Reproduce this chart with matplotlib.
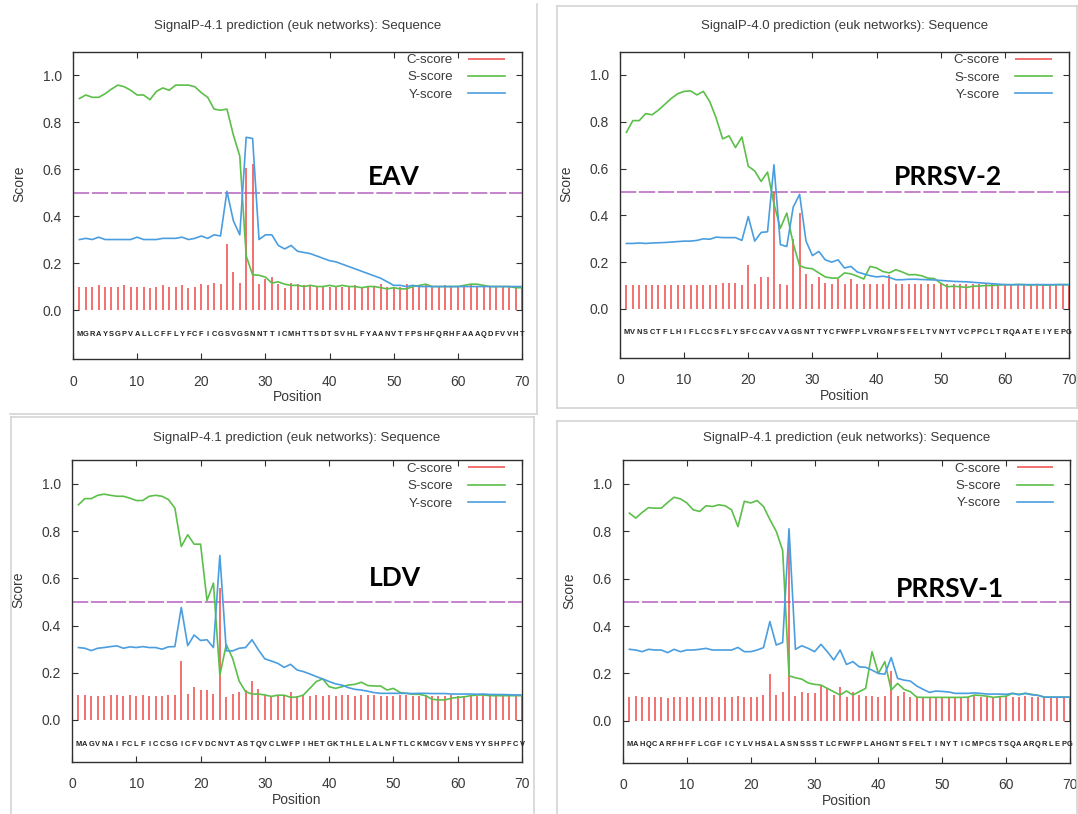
import matplotlib
matplotlib.use("Agg")
import matplotlib.pyplot as plt
from matplotlib.lines import Line2D
import numpy as np

plt.rcParams['font.family'] = ['Liberation Sans', 'DejaVu Sans']

# ---------------- data ----------------
titles = ["SignalP-4.1 prediction (euk networks): Sequence",
          "SignalP-4.0 prediction (euk networks): Sequence",
          "SignalP-4.1 prediction (euk networks): Sequence",
          "SignalP-4.1 prediction (euk networks): Sequence"]
virus_labels = ["EAV", "PRRSV-2", "LDV", "PRRSV-1"]
sequences = [
    "MGRAYSGPVALLCFFLYFCFICGSVGSNNTTICMHTTSDTSVHLFYAANVTFPSHFQRHFAAAQDFVVHT",
    "MVNSCTFLHIFLCCSFLYSFCCAVVAGSNTTYCFWFPLVRGNFSFELTVNYTVCPPCLTRQAATEIYEPG",
    "MAGVNAIFCLFICCSGICFVDCNVTASTQVCLWFPIHETGKTHLELALNFTLCKMCGVVENSYYSHPFCV",
    "MAHQCARFHFFLCGFICYLVHSALASNSSSTLCFWFPLAHGNTSFELTINYTICMPCSTSQAARQRLEPG",
]

eav_c = [0.10, 0.10, 0.10, 0.105, 0.10, 0.10, 0.10, 0.105, 0.10, 0.10,
         0.10, 0.095, 0.10, 0.105, 0.10, 0.10, 0.105, 0.095, 0.10, 0.11,
         0.105, 0.115, 0.11, 0.28, 0.16, 0.115, 0.605, 0.62, 0.11, 0.13,
         0.14, 0.11, 0.095, 0.115, 0.11, 0.105, 0.105, 0.10, 0.10, 0.10,
         0.10, 0.10, 0.10, 0.105, 0.095, 0.10, 0.10, 0.11, 0.10, 0.095,
         0.10, 0.11, 0.10, 0.10, 0.105, 0.10, 0.10, 0.105, 0.10, 0.10,
         0.10, 0.105, 0.10, 0.105, 0.10, 0.10, 0.10, 0.10, 0.10, 0.095]
eav_s = [0.90, 0.915, 0.905, 0.905, 0.92, 0.94, 0.957, 0.95, 0.935, 0.915,
         0.915, 0.895, 0.93, 0.945, 0.935, 0.957, 0.957, 0.957, 0.95, 0.925,
         0.905, 0.855, 0.85, 0.855, 0.745, 0.655, 0.23, 0.15, 0.148, 0.14,
         0.115, 0.12, 0.11, 0.105, 0.105, 0.10, 0.105, 0.10, 0.10, 0.105,
         0.10, 0.105, 0.10, 0.10, 0.095, 0.10, 0.10, 0.095, 0.09, 0.095,
         0.09, 0.09, 0.10, 0.105, 0.11, 0.10, 0.10, 0.10, 0.10, 0.10,
         0.105, 0.11, 0.11, 0.105, 0.10, 0.10, 0.10, 0.10, 0.095, 0.095]
eav_y = [0.30, 0.305, 0.30, 0.31, 0.30, 0.30, 0.30, 0.30, 0.30, 0.31,
         0.30, 0.30, 0.30, 0.305, 0.305, 0.305, 0.31, 0.30, 0.305, 0.315,
         0.305, 0.32, 0.315, 0.505, 0.38, 0.32, 0.735, 0.73, 0.30, 0.32,
         0.32, 0.275, 0.26, 0.275, 0.25, 0.245, 0.24, 0.23, 0.22, 0.21,
         0.205, 0.195, 0.185, 0.175, 0.165, 0.155, 0.145, 0.135, 0.12, 0.105,
         0.105, 0.10, 0.105, 0.10, 0.10, 0.10, 0.10, 0.10, 0.10, 0.10,
         0.10, 0.10, 0.10, 0.10, 0.10, 0.10, 0.10, 0.10, 0.10, 0.10]

prrsv2_c = [0.104, 0.104, 0.104, 0.104, 0.104, 0.104, 0.104, 0.104, 0.104, 0.104,
            0.104, 0.104, 0.104, 0.104, 0.104, 0.11, 0.11, 0.11, 0.104, 0.186,
            0.105, 0.135, 0.137, 0.50, 0.108, 0.104, 0.30, 0.41, 0.15, 0.105,
            0.135, 0.11, 0.105, 0.13, 0.105, 0.13, 0.105, 0.105, 0.105, 0.105,
            0.105, 0.145, 0.105, 0.105, 0.105, 0.105, 0.105, 0.105, 0.105, 0.105,
            0.105, 0.105, 0.105, 0.105, 0.105, 0.105, 0.105, 0.105, 0.105, 0.105,
            0.105, 0.105, 0.105, 0.105, 0.105, 0.105, 0.105, 0.105, 0.105, 0.105]
prrsv2_s = [0.755, 0.805, 0.805, 0.835, 0.83, 0.85, 0.875, 0.90, 0.92, 0.93,
            0.932, 0.915, 0.93, 0.886, 0.815, 0.727, 0.74, 0.69, 0.735, 0.61,
            0.59, 0.545, 0.585, 0.45, 0.345, 0.41, 0.28, 0.185, 0.175, 0.172,
            0.154, 0.137, 0.132, 0.132, 0.154, 0.15, 0.14, 0.128, 0.182, 0.175,
            0.16, 0.154, 0.168, 0.158, 0.146, 0.147, 0.142, 0.132, 0.13, 0.11,
            0.095, 0.097, 0.095, 0.092, 0.097, 0.098, 0.10, 0.10, 0.102, 0.104,
            0.103, 0.105, 0.104, 0.102, 0.104, 0.102, 0.102, 0.104, 0.104, 0.104]
prrsv2_y = [0.28, 0.28, 0.282, 0.28, 0.282, 0.283, 0.284, 0.286, 0.288, 0.29,
            0.29, 0.293, 0.30, 0.298, 0.307, 0.305, 0.305, 0.305, 0.293, 0.395,
            0.29, 0.327, 0.33, 0.616, 0.275, 0.267, 0.435, 0.49, 0.29, 0.228,
            0.246, 0.21, 0.20, 0.21, 0.175, 0.182, 0.158, 0.15, 0.142, 0.137,
            0.14, 0.135, 0.125, 0.125, 0.127, 0.127, 0.126, 0.125, 0.124, 0.122,
            0.12, 0.118, 0.117, 0.116, 0.114, 0.112, 0.11, 0.108, 0.106, 0.104,
            0.104, 0.104, 0.104, 0.104, 0.104, 0.104, 0.104, 0.104, 0.104, 0.104]

ldv_c = [0.105, 0.105, 0.10, 0.10, 0.10, 0.105, 0.105, 0.10, 0.105, 0.10,
         0.105, 0.10, 0.10, 0.10, 0.105, 0.105, 0.248, 0.11, 0.141, 0.127,
         0.127, 0.11, 0.56, 0.099, 0.11, 0.12, 0.127, 0.167, 0.13, 0.105,
         0.10, 0.105, 0.10, 0.12, 0.10, 0.105, 0.10, 0.105, 0.10, 0.105,
         0.10, 0.105, 0.105, 0.10, 0.105, 0.105, 0.105, 0.10, 0.10, 0.10,
         0.105, 0.105, 0.10, 0.10, 0.105, 0.10, 0.10, 0.10, 0.105, 0.10,
         0.10, 0.105, 0.10, 0.105, 0.10, 0.105, 0.10, 0.10, 0.10, 0.10]
ldv_s = [0.912, 0.938, 0.938, 0.952, 0.957, 0.952, 0.948, 0.948, 0.94, 0.93,
         0.93, 0.948, 0.952, 0.948, 0.934, 0.898, 0.735, 0.785, 0.745, 0.745,
         0.506, 0.58, 0.19, 0.32, 0.26, 0.165, 0.12, 0.11, 0.11, 0.106,
         0.10, 0.105, 0.105, 0.096, 0.097, 0.106, 0.134, 0.163, 0.174, 0.141,
         0.134, 0.141, 0.148, 0.151, 0.16, 0.146, 0.144, 0.144, 0.127, 0.134,
         0.117, 0.113, 0.109, 0.109, 0.103, 0.088, 0.085, 0.085, 0.092, 0.096,
         0.098, 0.103, 0.106, 0.106, 0.103, 0.103, 0.103, 0.103, 0.103, 0.103]
ldv_y = [0.307, 0.304, 0.294, 0.304, 0.307, 0.311, 0.314, 0.304, 0.31, 0.307,
         0.311, 0.307, 0.307, 0.30, 0.31, 0.311, 0.477, 0.315, 0.36, 0.337,
         0.34, 0.307, 0.697, 0.293, 0.293, 0.304, 0.307, 0.34, 0.297, 0.259,
         0.25, 0.24, 0.223, 0.236, 0.212, 0.205, 0.195, 0.184, 0.174, 0.163,
         0.153, 0.148, 0.137, 0.13, 0.127, 0.122, 0.116, 0.113, 0.113, 0.113,
         0.113, 0.113, 0.112, 0.113, 0.113, 0.112, 0.112, 0.112, 0.11, 0.11,
         0.11, 0.11, 0.109, 0.11, 0.108, 0.108, 0.108, 0.107, 0.106, 0.106]

prrsv1_c = [0.10, 0.105, 0.10, 0.10, 0.10, 0.10, 0.095, 0.10, 0.10, 0.10,
            0.10, 0.10, 0.10, 0.10, 0.10, 0.10, 0.10, 0.105, 0.10, 0.10,
            0.10, 0.11, 0.197, 0.11, 0.12, 0.76, 0.106, 0.123, 0.116, 0.116,
            0.148, 0.138, 0.11, 0.144, 0.10, 0.12, 0.11, 0.105, 0.105, 0.10,
            0.105, 0.21, 0.105, 0.123, 0.10, 0.10, 0.10, 0.10, 0.10, 0.10,
            0.10, 0.10, 0.10, 0.10, 0.105, 0.10, 0.10, 0.10, 0.10, 0.105,
            0.10, 0.10, 0.105, 0.10, 0.10, 0.10, 0.10, 0.10, 0.10, 0.10]
prrsv1_s = [0.877, 0.856, 0.88, 0.90, 0.898, 0.898, 0.922, 0.944, 0.937, 0.92,
            0.891, 0.884, 0.908, 0.905, 0.912, 0.908, 0.891, 0.82, 0.927, 0.92,
            0.93, 0.905, 0.85, 0.80, 0.72, 0.19, 0.182, 0.176, 0.16, 0.154,
            0.151, 0.137, 0.123, 0.109, 0.126, 0.109, 0.123, 0.137, 0.292, 0.20,
            0.25, 0.13, 0.158, 0.133, 0.123, 0.10, 0.099, 0.099, 0.099, 0.099,
            0.099, 0.099, 0.099, 0.10, 0.109, 0.107, 0.104, 0.099, 0.102, 0.104,
            0.116, 0.112, 0.116, 0.112, 0.107, 0.10, 0.10, 0.10, 0.10, 0.10]
prrsv1_y = [0.302, 0.299, 0.292, 0.302, 0.299, 0.299, 0.288, 0.302, 0.292, 0.299,
            0.299, 0.302, 0.306, 0.299, 0.299, 0.299, 0.299, 0.31, 0.292, 0.292,
            0.299, 0.309, 0.419, 0.32, 0.331, 0.811, 0.302, 0.317, 0.306, 0.292,
            0.323, 0.292, 0.257, 0.299, 0.238, 0.25, 0.228, 0.226, 0.214, 0.20,
            0.197, 0.267, 0.179, 0.172, 0.168, 0.147, 0.133, 0.12, 0.126, 0.124,
            0.122, 0.116, 0.116, 0.116, 0.118, 0.116, 0.113, 0.113, 0.113, 0.112,
            0.116, 0.11, 0.116, 0.11, 0.108, 0.10, 0.10, 0.10, 0.10, 0.10]

c_scores = [eav_c, prrsv2_c, ldv_c, prrsv1_c]
s_scores = [eav_s, prrsv2_s, ldv_s, prrsv1_s]
y_scores = [eav_y, prrsv2_y, ldv_y, prrsv1_y]
threshold = 0.5
x_ticks = [0, 10, 20, 30, 40, 50, 60, 70]
y_ticks = [0.0, 0.2, 0.4, 0.6, 0.8, 1.0]

# ---------------- layout ----------------
W, H = 1078, 814
fig = plt.figure(figsize=(W / 100, H / 100), dpi=100)
fig.patch.set_facecolor('white')

# axes rectangles in pixels: left, top, right, bottom ; and y-limits
rects_px = [(73, 51.5, 522, 359.4),
            (620, 51.6, 1069, 358.1),
            (72, 460.4, 522, 762),
            (623, 460.3, 1070, 763)]
ylims = [(-0.21, 1.1), (-0.21, 1.1), (-0.178, 1.1), (-0.178, 1.1)]
title_pads = [16, 16, 14, 14]
label_pos = [(50.0, 0.566), (51.2, 0.566), (50.2, 0.60), (51.2, 0.555)]

RED = '#f04848'
GREEN = '#5cbf4a'
BLUE = '#4a9ee0'
PURPLE = '#c07ac8'
TXT = '#3a3a3a'

# panel borders (figure pixel coords)
def border(x0, y0, x1, y1, sides=('l', 'r', 't', 'b')):
    segs = {'l': ((x0, x0), (y0, y1)), 'r': ((x1, x1), (y0, y1)),
            't': ((x0, x1), (y0, y0)), 'b': ((x0, x1), (y1, y1))}
    for s in sides:
        xs, ys = segs[s]
        fig.add_artist(Line2D([x / W for x in xs], [1 - y / H for y in ys],
                              color='#d4d4d4', lw=1.2))

border(10, 4, 537, 414, sides=('r', 'b'))
border(557, 6, 1077, 408)
border(11, 417, 534, 813, sides=('l', 'r', 't'))
border(557, 421, 1077, 813, sides=('l', 'r', 't'))

for i in range(4):
    l, t, r, b = rects_px[i]
    ax = fig.add_axes([l / W, 1 - b / H, (r - l) / W, (b - t) / H])
    pos = np.arange(1, len(c_scores[i]) + 1)
    ax.vlines(pos, 0, c_scores[i], color=RED, lw=1.1, label='C-score', zorder=2)
    ax.plot(pos, s_scores[i], color=GREEN, lw=1.2, label='S-score', zorder=3)
    ax.plot(pos, y_scores[i], color=BLUE, lw=1.2, label='Y-score', zorder=4)
    ax.axhline(threshold, color=PURPLE, lw=1.3, dashes=(9, 1.5), zorder=1)
    for k, ch in enumerate(sequences[i]):
        ax.text(k + 1, -0.102, ch, ha='center', va='center', fontsize=5.4,
                fontweight='bold', color='#222222')
    ax.text(label_pos[i][0], label_pos[i][1], virus_labels[i], ha='center', va='center',
            fontsize=19, fontweight='bold', family=['Lato', 'DejaVu Sans'], color='black')
    ax.set_xlim(0, 70)
    ax.set_ylim(*ylims[i])
    ax.set_xticks(x_ticks)
    ax.set_yticks(y_ticks)
    ax.set_yticklabels([f"{v:.1f}" for v in y_ticks])
    ax.tick_params(direction='in', top=True, right=True, length=4, width=0.8,
                   colors='#303030', labelcolor=TXT, labelsize=10)
    ax.tick_params(axis='x', pad=11)
    ax.tick_params(axis='y', pad=8)
    for sp in ax.spines.values():
        sp.set_color('#303030')
        sp.set_linewidth(1.0)
    ax.set_title(titles[i], fontsize=9.5, color=TXT, pad=title_pads[i])
    ax.set_xlabel('Position', fontsize=10, color=TXT)
    ax.set_ylabel('Score', fontsize=10, color=TXT)
    hpx = b - t
    wpx = r - l
    ax.xaxis.set_label_coords(0.5, -31 / hpx)
    ax.yaxis.set_label_coords(-47 / wpx, 0.57)
    leg = ax.legend(loc='upper right', bbox_to_anchor=(0.963, 0.992), markerfirst=False,
                    frameon=False, fontsize=9.5, borderpad=0, borderaxespad=0,
                    handlelength=2.8, handletextpad=1.2, labelspacing=0.38)
    for txt in leg.get_texts():
        txt.set_color(TXT)

fig.savefig('out.png', dpi=100, facecolor='white')
